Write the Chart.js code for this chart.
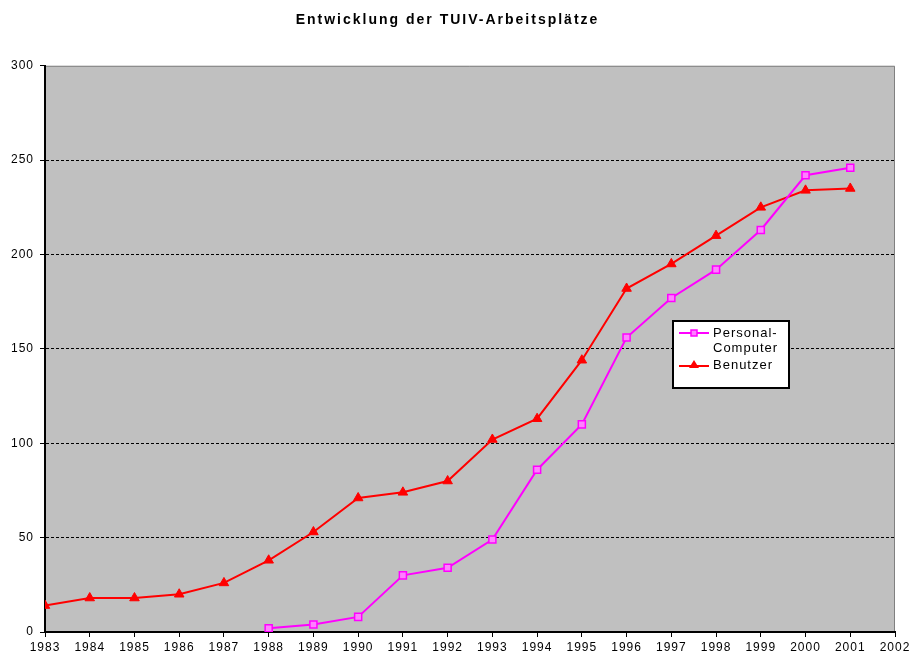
<!DOCTYPE html>
<html>
<head>
<meta charset="utf-8">
<script src="https://cdn.jsdelivr.net/npm/chart.js@4.4.0/dist/chart.umd.min.js"></script>
<style>
  html, body { margin: 0; padding: 0; background: #fff; }
  #wrap { width: 910px; height: 655px; }
</style>
</head>
<body>
<div id="wrap"><canvas id="chartCanvas" width="910" height="655"></canvas></div>
<script>
// --- data ---
const years = [1983, 1984, 1985, 1986, 1987, 1988, 1989, 1990, 1991, 1992,
               1993, 1994, 1995, 1996, 1997, 1998, 1999, 2000, 2001];
const benutzer = [14, 18, 18, 20, 26, 38, 53, 71, 74, 80,
                  102, 113, 144, 182, 195, 210, 225, 234, 235];
const pcYears = [1988, 1989, 1990, 1991, 1992, 1993, 1994, 1995, 1996, 1997, 1998, 1999, 2000, 2001];
const personalComputer = [2, 4, 8, 30, 34, 49, 86, 110, 156, 177, 192, 213, 242, 246];
const yTicks = [0, 50, 100, 150, 200, 250, 300];

const canvas = document.getElementById("chartCanvas");

// letter spacing gets reset whenever the canvas is resized, so set it each pass
// (the title is a bit wider spaced than the rest)
const spacing = {
  id: "spacing",
  beforeLayout(chart) { chart.ctx.letterSpacing = "1px"; },
  afterLayout(chart) {
    const tb = chart.titleBlock;
    if (tb && !tb._spaced) {
      const draw = tb.draw.bind(tb);
      tb.draw = area => {
        chart.ctx.letterSpacing = "2px";
        draw(area);
        chart.ctx.letterSpacing = "1px";
      };
      tb._spaced = true;
    }
  },
  beforeDraw(chart) { chart.ctx.letterSpacing = "1px"; }
};

// grey plot area + grey top/right frame
const plotArea = {
  id: "plotArea",
  beforeDraw(chart) {
    const { ctx, chartArea: a } = chart;
    ctx.save();
    ctx.fillStyle = "#c0c0c0";
    ctx.fillRect(a.left, a.top, a.right - a.left, a.bottom - a.top);
    ctx.strokeStyle = "#808080";
    ctx.lineWidth = 1;
    ctx.beginPath();
    ctx.moveTo(a.left, a.top + 0.5);
    ctx.lineTo(a.right - 0.5, a.top + 0.5);
    ctx.lineTo(a.right - 0.5, a.bottom);
    ctx.stroke();
    ctx.restore();
  }
};

// boxed legend sitting inside the plot
const boxLegend = {
  id: "boxLegend",
  afterDraw(chart) {
    const ctx = chart.ctx;
    const x = 673, y = 321, w = 116, h = 67;
    ctx.save();
    ctx.fillStyle = "#fff";
    ctx.fillRect(x, y, w, h);
    ctx.strokeStyle = "#000";
    ctx.lineWidth = 2;
    ctx.strokeRect(x, y, w, h);

    ctx.font = "13px 'Liberation Sans', Arial, sans-serif";
    ctx.fillStyle = "#000";
    ctx.textBaseline = "middle";
    ctx.textAlign = "left";

    // Personal-Computer
    ctx.strokeStyle = "#ff00ff";
    ctx.beginPath(); ctx.moveTo(679, 333); ctx.lineTo(709, 333); ctx.stroke();
    ctx.fillStyle = "#ff80ff";
    ctx.fillRect(691, 330, 6, 6);
    ctx.strokeStyle = "#ff00ff"; ctx.lineWidth = 1.5;
    ctx.strokeRect(691, 330, 6, 6);
    ctx.fillStyle = "#000";
    ctx.fillText("Personal-", 713, 333);
    ctx.fillText("Computer", 713, 348);

    // Benutzer
    ctx.strokeStyle = "#ff0000"; ctx.lineWidth = 2;
    ctx.beginPath(); ctx.moveTo(679, 366); ctx.lineTo(709, 366); ctx.stroke();
    ctx.fillStyle = "#ff0000";
    ctx.beginPath(); ctx.moveTo(694, 360); ctx.lineTo(699, 368); ctx.lineTo(689, 368); ctx.closePath(); ctx.fill();
    ctx.fillStyle = "#000";
    ctx.fillText("Benutzer", 713, 365);
    ctx.restore();
  }
};

const font = { family: "'Liberation Sans', Arial, sans-serif", size: 12 };

new Chart(canvas, {
  type: "line",
  data: {
    datasets: [
      {
        label: "Personal-Computer",
        data: pcYears.map((yr, i) => ({ x: yr, y: personalComputer[i] })),
        borderColor: "#ff00ff",
        borderWidth: 2,
        pointStyle: "rect",
        pointRadius: 5,
        pointBorderWidth: 1.5,
        pointBackgroundColor: "#ff80ff",
        pointBorderColor: "#ff00ff",
        tension: 0
      },
      {
        label: "Benutzer",
        data: years.map((yr, i) => ({ x: yr, y: benutzer[i] })),
        borderColor: "#ff0000",
        borderWidth: 2,
        pointStyle: "triangle",
        pointRadius: 5.5,
        pointBorderWidth: 1,
        pointBackgroundColor: "#ff0000",
        pointBorderColor: "#ff0000",
        tension: 0
      }
    ]
  },
  options: {
    responsive: false,
    animation: false,
    layout: { padding: { left: 0, right: 15, top: 0, bottom: 0 } },
    plugins: {
      legend: { display: false },
      tooltip: { enabled: false },
      title: {
        display: true,
        text: "Entwicklung der TUIV-Arbeitsplätze",
        color: "#000",
        font: { family: font.family, size: 14, weight: "bold" },
        padding: { top: 12, bottom: 37 }
      }
    },
    scales: {
      x: {
        type: "linear",
        min: 1983,
        max: 2002,
        afterFit(scale) {
          scale.height = 23;
          scale.paddingLeft = 0;
          scale.paddingRight = 0;
        },
        ticks: {
          stepSize: 1,
          autoSkip: false,
          maxRotation: 0,
          color: "#000",
          font,
          padding: 3,
          callback: v => String(v)
        },
        grid: { drawOnChartArea: false, drawTicks: true, tickLength: 5, tickColor: "#000", tickWidth: 1 },
        border: { color: "#000", width: 2 }
      },
      y: {
        min: 0,
        max: 300,
        afterFit(scale) { scale.width = 45; },
        afterBuildTicks(scale) { scale.ticks = yTicks.map(v => ({ value: v })); },
        ticks: { color: "#000", font, padding: 6 },
        grid: {
          color: c => (c.tick && c.tick.value === 300 ? "rgba(0,0,0,0)" : "#000"),
          lineWidth: 1,
          tickLength: 5,
          tickColor: "#000",
          tickWidth: 1
        },
        border: { color: "#000", width: 2, dash: [3, 2] }
      }
    }
  },
  plugins: [spacing, plotArea, boxLegend]
});
</script>
</body>
</html>
